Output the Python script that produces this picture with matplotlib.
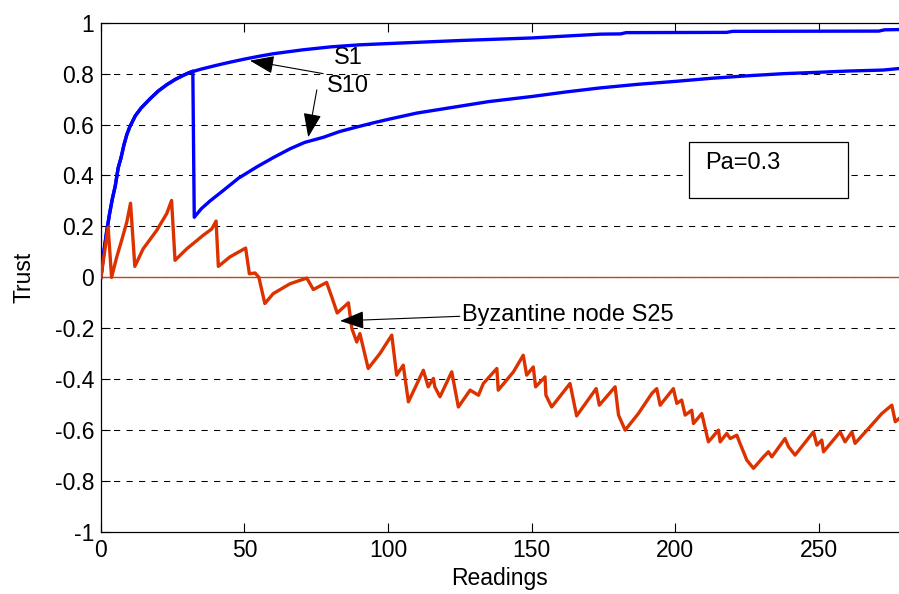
import matplotlib
matplotlib.use("Agg")
import matplotlib.pyplot as plt
from matplotlib.patches import Rectangle

plt.rcParams['font.family'] = ['Liberation Sans', 'DejaVu Sans']
plt.rcParams['axes.unicode_minus'] = False

# S1 (normal node)
s1_x = [0, 1, 2, 3, 4, 5, 6, 7, 8, 9, 10, 12, 14, 17, 20, 23, 26, 29, 31,
        35, 40, 45, 50, 55, 60, 70, 80, 90, 100, 125, 150, 174, 181, 183,
        218, 220, 271, 273, 278]
s1_y = [0, 0.1, 0.18, 0.25, 0.31, 0.36, 0.43, 0.47, 0.52, 0.56, 0.59, 0.635,
        0.665, 0.70, 0.732, 0.757, 0.778, 0.795, 0.805, 0.818, 0.832, 0.845,
        0.857, 0.868, 0.878, 0.893, 0.905, 0.913, 0.918, 0.93, 0.94, 0.955,
        0.956, 0.961, 0.962, 0.966, 0.967, 0.972, 0.973]

# S10 follows S1, then drops at ~32 readings
s10_x = [0, 1, 2, 3, 4, 5, 6, 7, 8, 9, 10, 12, 14, 17, 20, 23, 26, 29, 31,
         32, 32.5, 35, 38, 42.6, 48, 54.2, 60, 65.9, 71, 77.5, 83, 89, 95,
         100.7, 110, 120, 135, 150, 162, 174, 187, 200.6, 213, 226, 238,
         249.4, 260, 272.5, 278]
s10_y = [0, 0.1, 0.18, 0.25, 0.31, 0.36, 0.43, 0.47, 0.52, 0.56, 0.59, 0.635,
         0.665, 0.70, 0.732, 0.757, 0.778, 0.795, 0.805, 0.81, 0.236, 0.27,
         0.30, 0.341, 0.39, 0.433, 0.47, 0.505, 0.53, 0.55, 0.572, 0.59, 0.607,
         0.622, 0.645, 0.663, 0.69, 0.71, 0.728, 0.744, 0.758, 0.77, 0.782,
         0.792, 0.80, 0.805, 0.81, 0.814, 0.82]

# Byzantine node S25
s25_x = [0, 2.5, 3.7, 5.5, 7.2, 9, 10.3, 11.8, 14.7, 19.4,
         22.9, 24.6, 25.8, 29.9, 35.6, 38.6, 40.1, 40.9, 44.9, 50.4,
         51.7, 53.7, 55, 57.1, 60, 65.9, 71.7, 74, 78.6, 80.4,
         82.3, 86.2, 87.4, 89.1, 90.2, 92, 93.1, 97.2, 101.3, 103,
         105.3, 107.1, 112.3, 114, 115.8, 116.3, 118.1, 122.2, 124.5, 128.6,
         131.5, 133.2, 137.9, 138.4, 143.7, 147.1, 148.3, 150.6, 151.4, 154.7,
         155, 157, 163.4, 165.7, 169.2, 172.5, 173.6, 179.1, 180.3, 182.6,
         187.2, 191.9, 193.6, 194.8, 199.4, 200.6, 202.3, 203.5, 205.8, 206.4,
         209.3, 211.6, 215.1, 215.7, 218, 219.2, 221.5, 222.6, 225, 227.3,
         230.8, 232.5, 233.7, 238.3, 239.5, 241.8, 248.2, 249.4, 251.1, 251.7,
         254.6, 257.5, 259.2, 261.6, 262.7, 267.9, 272, 275.5, 276.7, 278]
s25_y = [0, 0.197, 0, 0.08, 0.145, 0.217, 0.291, 0.043, 0.112, 0.184,
         0.25, 0.302, 0.067, 0.112, 0.165, 0.19, 0.221, 0.043, 0.08, 0.115,
         0.014, 0.017, 0, -0.103, -0.064, -0.025, -0.003, -0.048, -0.02, -0.077,
         -0.14, -0.1, -0.201, -0.254, -0.221, -0.306, -0.358, -0.299, -0.227, -0.384,
         -0.345, -0.489, -0.365, -0.43, -0.397, -0.43, -0.469, -0.371, -0.509, -0.443,
         -0.463, -0.417, -0.358, -0.443, -0.371, -0.306, -0.384, -0.352, -0.43, -0.391,
         -0.463, -0.509, -0.417, -0.544, -0.489, -0.437, -0.502, -0.43, -0.541, -0.6,
         -0.535, -0.456, -0.437, -0.502, -0.437, -0.495, -0.482, -0.541, -0.522, -0.574,
         -0.535, -0.646, -0.6, -0.646, -0.613, -0.633, -0.62, -0.652, -0.718, -0.75,
         -0.705, -0.685, -0.705, -0.633, -0.665, -0.698, -0.607, -0.659, -0.639, -0.685,
         -0.646, -0.607, -0.646, -0.607, -0.652, -0.587, -0.535, -0.502, -0.567, -0.555]

x_ticks = [0, 50, 100, 150, 200, 250]
y_ticks = [-1, -0.8, -0.6, -0.4, -0.2, 0, 0.2, 0.4, 0.6, 0.8, 1]
y_labels = ['-1', '-0.8', '-0.6', '-0.4', '-0.2', '0', '0.2', '0.4', '0.6', '0.8', '1']

fig = plt.figure(figsize=(8.99, 5.94), dpi=100)
ax = fig.add_axes([0.1123, 0.1044, 0.8877, 0.8574])

# dashed horizontal grid
for yv in y_ticks[1:-1]:
    ax.axhline(yv, color='k', lw=0.75, ls=(0, (6, 6)), zorder=1)
ax.axhline(0, color='#c04a10', lw=1.0, zorder=2)

ax.plot(s10_x, s10_y, color='#0000ff', lw=2.4, zorder=3)
ax.plot(s1_x, s1_y, color='#0000ff', lw=2.4, zorder=3)
ax.plot(s25_x, s25_y, color='#dc3200', lw=2.4, zorder=3)

ax.set_xlim(0, 278)
ax.set_ylim(-1, 1)
ax.set_xticks(x_ticks)
ax.set_yticks(y_ticks)
ax.set_yticklabels(y_labels)
ax.tick_params(direction='in', length=6.5, width=0.8, labelsize=16.5, pad=5,
               top=True)
ax.spines['right'].set_visible(False)
for s in ['left', 'bottom', 'top']:
    ax.spines[s].set_linewidth(0.9)

ax.set_xlabel('Readings', fontsize=16.5, labelpad=4)
ax.set_ylabel('Trust', fontsize=16.5, labelpad=14)

arrow = dict(arrowstyle='-|>,head_length=0.75,head_width=0.28', color='k',
             lw=0.8, mutation_scale=20, shrinkA=0, shrinkB=0)
ax.text(86, 0.863, 'S1', fontsize=17, ha='center', va='center')
ax.annotate('', xy=(51.9, 0.851), xytext=(77.4, 0.80), arrowprops=arrow)
ax.text(86, 0.75, 'S10', fontsize=17, ha='center', va='center')
ax.annotate('', xy=(72.2, 0.55), xytext=(75.2, 0.736), arrowprops=arrow)
ax.text(125.8, -0.149, 'Byzantine node S25', fontsize=17, ha='left', va='center')
ax.annotate('', xy=(83.3, -0.171), xytext=(125, -0.153), arrowprops=arrow)

# parameter box
ax.add_patch(Rectangle((0.737, 0.656), 0.1995, 0.109, transform=ax.transAxes,
                       facecolor='white', edgecolor='k', lw=0.9, zorder=4))
ax.text(0.757, 0.7245, 'Pa=0.3', transform=ax.transAxes, fontsize=17,
        ha='left', va='center', zorder=5)

fig.savefig('out.png', dpi=100)
